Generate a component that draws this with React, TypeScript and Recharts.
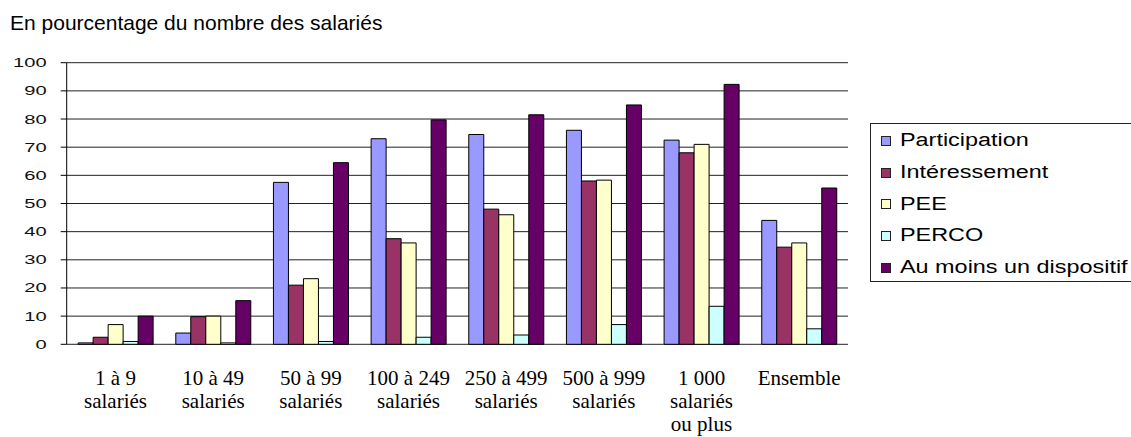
import { Bar, BarChart, CartesianGrid, XAxis, YAxis } from 'recharts'

const categories = [
    '1 à 9\nsalariés',
    '10 à 49\nsalariés',
    '50 à 99\nsalariés',
    '100 à 249\nsalariés',
    '250 à 499\nsalariés',
    '500 à 999\nsalariés',
    '1 000\nsalariés\nou plus',
    'Ensemble',
]

const participation = [0.5, 4, 57.5, 73, 74.5, 76, 72.5, 44]
const interessement = [2.5, 9.8, 21, 37.5, 48, 58, 68, 34.5]
const pee = [7, 10, 23.3, 36, 46, 58.3, 71, 36]
const perco = [1, 0.5, 1, 2.5, 3.3, 7, 13.5, 5.5]
const auMoinsUn = [10, 15.5, 64.5, 79.7, 81.5, 85, 92.3, 55.5]

const yTicks = [0, 10, 20, 30, 40, 50, 60, 70, 80, 90, 100]
const edgeTicks = [0, 1, 2, 3, 4, 5, 6, 7, 8]

const series = [
    { key: 'participation', name: 'Participation', color: '#9999FF', values: participation },
    { key: 'interessement', name: 'Intéressement', color: '#993366', values: interessement },
    { key: 'pee', name: 'PEE', color: '#FFFFCC', values: pee },
    { key: 'perco', name: 'PERCO', color: '#CCFFFF', values: perco },
    { key: 'auMoinsUn', name: 'Au moins un dispositif', color: '#660066', values: auMoinsUn },
]

const data = categories.map((cat, i) => {
    const row: Record<string, string | number> = { cat }
    series.forEach((s) => {
        row[s.key] = s.values[i]
    })
    return row
})

const sans = '"Liberation Sans", Arial, sans-serif'
const serif = '"Liberation Serif", "Times New Roman", serif'

const YTick = ({ x, y, payload }: any) => (
    <g transform={`translate(${x - 12},${y + 4.5})`}>
        <text transform="scale(1.55,1)" textAnchor="end" fontFamily={sans} fontSize={13} fill="#111">
            {payload.value}
        </text>
    </g>
)

const CatTick = ({ x, y, payload }: any) => {
    const lines = String(payload.value).split('\n')
    return (
        <text x={x} y={y + 40.5} textAnchor="middle" fontFamily={serif} fontSize={21} fill="#000">
            {lines.map((line, i) => (
                <tspan key={i} x={x} dy={i === 0 ? 0 : 23}>
                    {line}
                </tspan>
            ))}
        </text>
    )
}

export default function App() {
    return (
        <div
            style={{
                position: 'absolute',
                left: 0,
                top: 0,
                width: 1131,
                height: 437,
                overflow: 'hidden',
                background: '#fff',
            }}
        >
            <div
                style={{
                    position: 'absolute',
                    left: 10,
                    top: 12,
                    fontFamily: sans,
                    fontSize: 21,
                    lineHeight: '21px',
                    color: '#000',
                    whiteSpace: 'nowrap',
                }}
            >
                En pourcentage du nombre des salariés
            </div>

            <BarChart
                width={1131}
                height={437}
                data={data}
                margin={{ top: 62.7, right: 283, bottom: 0, left: 0 }}
                barCategoryGap="11.7%"
                barGap={0}
            >
                <CartesianGrid horizontal vertical={false} stroke="#222" xAxisId="cat" />
                <XAxis
                    xAxisId="edge"
                    type="number"
                    domain={[0, 8]}
                    ticks={edgeTicks}
                    tick={false}
                    height={0}
                    tickSize={7}
                    axisLine={{ stroke: '#000' }}
                    tickLine={{ stroke: '#000' }}
                    allowDataOverflow
                />
                <XAxis
                    xAxisId="cat"
                    dataKey="cat"
                    height={92.7}
                    axisLine={false}
                    tickLine={false}
                    tickSize={0}
                    tickMargin={0}
                    interval={0}
                    tick={<CatTick />}
                />
                <YAxis
                    width={66.7}
                    domain={[0, 100]}
                    ticks={yTicks}
                    interval={0}
                    tickSize={6}
                    axisLine={{ stroke: '#000' }}
                    tickLine={{ stroke: '#000' }}
                    tick={<YTick />}
                />
                {series.map((s) => (
                    <Bar
                        key={s.key}
                        xAxisId="cat"
                        dataKey={s.key}
                        name={s.name}
                        fill={s.color}
                        stroke="#000"
                        strokeWidth={1}
                        isAnimationActive={false}
                    />
                ))}
            </BarChart>

            <div
                style={{
                    position: 'absolute',
                    left: 870,
                    top: 123,
                    width: 300,
                    height: 159,
                    border: '1.5px solid #222',
                    boxSizing: 'border-box',
                    paddingTop: 1,
                }}
            >
                {series.map((s) => (
                    <div
                        key={s.key}
                        style={{ height: 31.7, display: 'flex', alignItems: 'center', whiteSpace: 'nowrap' }}
                    >
                        <div
                            style={{
                                width: 8,
                                height: 8,
                                marginLeft: 10,
                                marginRight: 9,
                                background: s.color,
                                border: '1px solid #222',
                                flexShrink: 0,
                            }}
                        />
                        <span
                            style={{
                                fontFamily: sans,
                                fontSize: 18,
                                color: '#000',
                                display: 'inline-block',
                                transform: 'scaleX(1.3)',
                                transformOrigin: 'left center',
                            }}
                        >
                            {s.name}
                        </span>
                    </div>
                ))}
            </div>
        </div>
    )
}
